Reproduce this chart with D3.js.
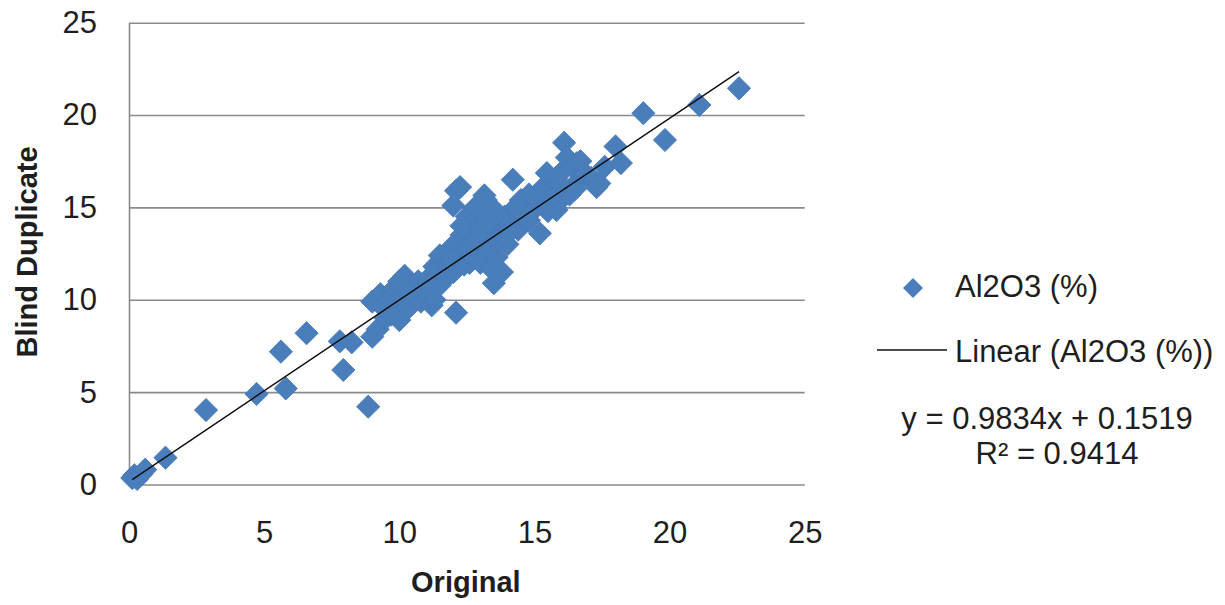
<!DOCTYPE html>
<html>
<head>
<meta charset="utf-8">
<script src="https://cdn.jsdelivr.net/npm/d3@7"></script>
<style>
  html, body { margin: 0; padding: 0; background: #ffffff; }
  svg { display: block; }
  text { font-family: "Liberation Sans", Arial, sans-serif; fill: #1e1e1e; }
</style>
</head>
<body>
<svg id="chart" width="1225" height="605"></svg>
<script>
// ---- data ----
const seriesName = "Al2O3 (%)";
const trendName = "Linear (Al2O3 (%))";
const xTitle = "Original";
const yTitle = "Blind Duplicate";
const tickValues = [0, 5, 10, 15, 20, 25];
const slope = 0.9834;
const intercept = 0.1519;
const rSquared = "0.9414";

const originalValues = [
  0.12, 0.2, 0.3, 0.45, 0.6, 1.35, 2.85, 4.72, 5.8, 5.62, 6.57, 7.8, 8.24, 7.93, 8.85,
  9.0, 9.2, 9.0, 9.3, 9.5, 9.6, 9.8, 9.9, 10.0, 10.1, 10.2, 10.3, 10.4, 10.5, 10.6, 10.7,
  10.8, 10.9, 11.0, 11.1, 11.2, 11.3, 11.3, 11.4, 11.5, 11.6, 11.7, 11.8, 11.9, 12.0,
  12.0, 12.1, 12.1, 12.25, 12.2, 12.2, 12.3, 12.4, 12.5, 12.6, 12.6, 12.7, 12.8, 12.9,
  12.9, 13.0, 13.1, 13.2, 13.2, 13.3, 13.4, 13.5, 13.5, 13.6, 13.7, 13.8, 13.8, 13.9,
  14.0, 14.1, 14.2, 14.3, 14.4, 14.5, 14.6, 14.7, 14.8, 15.0, 15.2, 15.3, 15.4, 15.46,
  15.5, 15.7, 15.8, 15.82, 15.9, 16.0, 16.1, 16.2, 16.3, 16.4, 16.57, 16.6, 16.7, 16.9,
  17.1, 17.3, 17.4, 17.6, 18.0, 18.2, 19.03, 19.83, 21.1, 22.57,
  9.4, 9.7, 10.3, 10.0, 10.8, 11.5, 12.5, 12.8, 13.0, 13.3, 12.3, 13.6, 13.15, 12.7,
  15.0, 15.6, 16.0, 16.5, 14.8, 14.4, 13.9, 11.9, 11.1
];
const duplicateValues = [
  0.35, 0.5, 0.3, 0.55, 0.8, 1.45, 4.03, 4.9, 5.2, 7.19, 8.19, 7.75, 7.7, 6.2, 4.21,
  8.0, 8.4, 9.9, 10.3, 9.0, 10.0, 10.6, 9.3, 8.9, 10.2, 11.3, 9.5, 10.8, 10.5, 10.1, 11.0,
  9.9, 10.7, 10.4, 11.2, 9.7, 10.0, 11.8, 11.6, 12.4, 11.0, 11.3, 11.9, 12.8, 11.5,
  15.1, 15.9, 9.3, 16.1, 12.3, 13.0, 13.5, 11.9, 12.9, 13.8, 12.0, 12.4, 14.1, 13.2,
  14.8, 12.0, 14.6, 13.6, 15.4, 12.6, 11.7, 14.9, 10.9, 12.3, 13.9, 11.5, 14.2, 14.5,
  13.0, 14.1, 16.5, 15.0, 13.8, 15.4, 14.6, 14.3, 15.7, 14.9, 13.6, 15.4, 16.2, 16.86,
  14.8, 16.0, 16.6, 14.86, 15.3, 16.9, 18.5, 17.7, 15.7, 17.2, 17.4, 16.4, 17.5, 16.8,
  16.6, 16.1, 16.3, 17.2, 18.3, 17.4, 20.1, 18.65, 20.55, 21.45,
  9.6, 9.2, 10.4, 11.0, 10.5, 10.8, 14.5, 15.0, 13.5, 14.2, 14.0, 13.2, 15.65, 13.0,
  15.6, 15.5, 16.2, 16.0, 14.3, 14.9, 13.4, 12.2, 10.9
];
const points = originalValues.map((x, i) => ({ x, y: duplicateValues[i] }));

// ---- layout ----
const svg = d3.select("#chart");
const plotLeft = 129, plotRight = 804.7, plotTop = 22.7, plotBottom = 484.5;
const x = d3.scaleLinear().domain([0, 25]).range([plotLeft, plotRight]);
const y = d3.scaleLinear().domain([0, 25]).range([plotBottom, plotTop]);
const markerColor = "#4A7EBB";
const gridColor = "#8a8a8a";

// y axis with gridlines
const yAxis = svg.append("g")
  .attr("transform", `translate(${plotLeft},0)`)
  .call(d3.axisLeft(y).tickValues(tickValues).tickFormat(d3.format("d"))
    .tickSizeInner(-(plotRight - plotLeft)).tickSizeOuter(0).tickPadding(32));
yAxis.select(".domain").attr("stroke", gridColor).attr("stroke-width", 1.6);
yAxis.selectAll(".tick line").attr("stroke", gridColor).attr("stroke-width", 1.6);
yAxis.selectAll(".tick text").attr("font-size", 31).attr("fill", "#1e1e1e")
  .attr("font-family", "Liberation Sans, Arial, sans-serif");

// x axis labels
const xAxis = svg.append("g")
  .attr("transform", `translate(0,${plotBottom})`)
  .call(d3.axisBottom(x).tickValues(tickValues).tickFormat(d3.format("d"))
    .tickSize(0).tickPadding(36.5));
xAxis.select(".domain").remove();
xAxis.selectAll(".tick text").attr("font-size", 31).attr("fill", "#1e1e1e")
  .attr("font-family", "Liberation Sans, Arial, sans-serif");

// markers
const diamond = d3.symbol().type(d3.symbolSquare).size(270);
svg.append("g").selectAll("path")
  .data(points)
  .join("path")
  .attr("d", diamond)
  .attr("transform", d => `translate(${x(d.x)},${y(d.y)}) rotate(45)`)
  .attr("fill", markerColor)
  .attr("stroke", "#4579B8")
  .attr("stroke-width", 0.8);

// trend line over data range
const xExt = d3.extent(points, d => d.x);
const trend = xExt.map(v => ({ x: v, y: slope * v + intercept }));
svg.append("path")
  .datum(trend)
  .attr("d", d3.line().x(d => x(d.x)).y(d => y(d.y)))
  .attr("stroke", "#101010")
  .attr("stroke-width", 1.5)
  .attr("fill", "none");

// axis titles
svg.append("text")
  .attr("x", (plotLeft + plotRight) / 2 - 1)
  .attr("y", 592)
  .attr("text-anchor", "middle")
  .attr("font-size", 29)
  .attr("font-weight", "bold")
  .text(xTitle);
svg.append("text")
  .attr("transform", `translate(37,252) rotate(-90)`)
  .attr("text-anchor", "middle")
  .attr("font-size", 29)
  .attr("font-weight", "bold")
  .text(yTitle);

// legend
const legend = svg.append("g");
legend.append("path")
  .attr("d", d3.symbol().type(d3.symbolSquare).size(200))
  .attr("transform", "translate(913,288) rotate(45)")
  .attr("fill", markerColor);
legend.append("text")
  .attr("x", 955).attr("y", 297)
  .attr("font-size", 31)
  .text(seriesName);
legend.append("line")
  .attr("x1", 877).attr("x2", 947)
  .attr("y1", 350).attr("y2", 350)
  .attr("stroke", "#101010").attr("stroke-width", 1.5);
legend.append("text")
  .attr("x", 955).attr("y", 362)
  .attr("font-size", 31)
  .text(trendName);

// trendline equation
svg.append("text")
  .attr("x", 1047).attr("y", 428.5)
  .attr("text-anchor", "middle")
  .attr("font-size", 31)
  .text(`y = ${slope}x + ${intercept}`);
svg.append("text")
  .attr("x", 1057).attr("y", 463.5)
  .attr("text-anchor", "middle")
  .attr("font-size", 31)
  .text(`R² = ${rSquared}`);
</script>
</body>
</html>
